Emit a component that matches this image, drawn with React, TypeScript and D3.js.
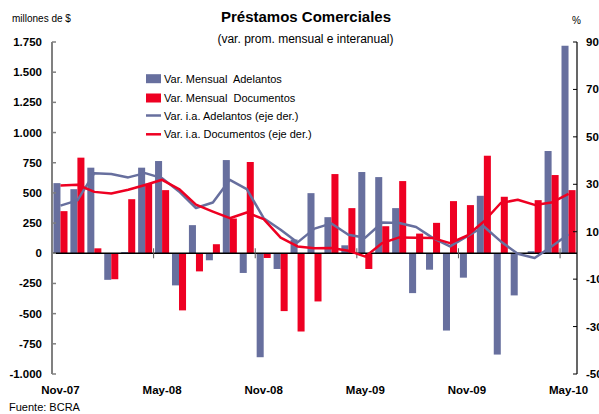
import React from "react";
import { scaleBand, scaleLinear, line } from "d3";

const months = [
  "Nov-07", "Dec-07", "Jan-08", "Feb-08", "Mar-08", "Apr-08", "May-08", "Jun-08",
  "Jul-08", "Aug-08", "Sep-08", "Oct-08", "Nov-08", "Dec-08", "Jan-09", "Feb-09",
  "Mar-09", "Apr-09", "May-09", "Jun-09", "Jul-09", "Aug-09", "Sep-09", "Oct-09",
  "Nov-09", "Dec-09", "Jan-10", "Feb-10", "Mar-10", "Apr-10", "May-10",
];
const monthLabels = ["Nov-07", "May-08", "Nov-08", "May-09", "Nov-09", "May-10"];

// millones de $
const adelantosMensual = [
  581, 531, 709, -220, 10, 709, 764, -266, 233, -58, 772, -163, -861, -130, 114, 498,
  299, 66, 673, 631, 374, -330, -136, -640, -202, 476, -839, -349, 17, 847, 1719,
];
const documentosMensual = [
  349, 792, 41, -215, 448, 576, 523, -473, -150, 75, 288, 756, -39, -479, -648, -399,
  656, 374, -130, 224, 598, 163, 252, 432, 399, 808, 468, 0, 440, 648, 523,
];
// % (eje der.)
const adelantosIA = [
  21.0, 23.2, 34.7, 34.3, 32.9, 34.7, 32.6, 27.0, 20.0, 22.3, 31.9, 28.0, 15.7, 10.8, 5.5, 11.3,
  13.5, 8.7, 7.5, 13.9, 13.7, 12.0, 7.3, 3.8, 8.0, 12.2, 5.9, 0.7, -1.1, 3.8, 8.9,
];
const documentosIA = [
  29.5, 29.8, 26.8, 26.1, 27.7, 29.7, 31.9, 28.0, 21.4, 18.5, 15.7, 18.1, 15.3, 7.5, 3.8, 3.0,
  3.1, 2.0, -0.5, 5.2, 7.6, 7.5, 7.3, 5.2, 8.3, 14.3, 22.1, 23.5, 21.3, 22.3, 26.0,
];

const leftTicks = [-1000, -750, -500, -250, 0, 250, 500, 750, 1000, 1250, 1500, 1750];
const rightTicks = [-50, -30, -10, 10, 30, 50, 70, 90];

const BLUE = "#676f9e";
const RED = "#ee0022";
const FONT = "'Liberation Sans', Arial, sans-serif";

const fmtLeft = (v: number) =>
  (v < 0 ? "-" : "") + Math.abs(v).toLocaleString("en-US").replace(",", ".");

export default function App() {
  const W = 599;
  const H = 414;
  const left = 52;
  const right = 577;
  const top = 42;
  const bottom = 374;

  const x0 = scaleBand<string>().domain(months).range([left, right]).paddingInner(0.17).paddingOuter(0.085);
  const x1 = scaleBand<string>().domain(["a", "d"]).range([0, x0.bandwidth()]);
  const yL = scaleLinear().domain([-1000, 1750]).range([bottom, top]);
  const yR = scaleLinear().domain([-50, 90]).range([bottom, top]);
  const cx = (m: string) => (x0(m) as number) + x0.bandwidth() / 2;

  const mkLine = line<number>()
    .x((_, i) => cx(months[i]))
    .y((d) => yR(d));

  const gap = (x0.step() - x0.bandwidth()) / 2;
  const boundaries = [6, 12, 18, 24, 30].map((k) => (x0(months[k]) as number) - gap);

  const bar = (v: number, m: string, key: string, color: string) => (
    <rect
      key={key + m}
      x={(x0(m) as number) + (x1(key) as number)}
      width={x1.bandwidth()}
      y={yL(Math.max(0, v))}
      height={Math.abs(yL(v) - yL(0))}
      fill={color}
    />
  );

  const legend = [
    { label: "Var. Mensual  Adelantos", color: BLUE, kind: "rect" },
    { label: "Var. Mensual  Documentos", color: RED, kind: "rect" },
    { label: "Var. i.a. Adelantos (eje der.)", color: BLUE, kind: "line" },
    { label: "Var. i.a. Documentos (eje der.)", color: RED, kind: "line" },
  ];
  const legendY = [78.7, 98, 115.5, 134.3];

  return (
    <svg width={W} height={H} style={{ position: "absolute", left: 0, top: 0, background: "#fff" }} fontFamily={FONT}>
      {/* titles */}
      <text x={306} y={22} textAnchor="middle" fontSize={15} fontWeight="bold">
        Préstamos Comerciales
      </text>
      <text x={305.5} y={43} textAnchor="middle" fontSize={12}>
        (var. prom. mensual e interanual)
      </text>
      <text x={12} y={22} fontSize={10}>millones de $</text>
      <text x={572} y={24} fontSize={10}>%</text>

      {/* bars */}
      {months.map((m, i) => bar(adelantosMensual[i], m, "a", BLUE))}
      {months.map((m, i) => bar(documentosMensual[i], m, "d", RED))}

      {/* zero line and category ticks */}
      <line x1={left} x2={right} y1={yL(0)} y2={yL(0)} stroke="#000" strokeWidth={1.5} />
      {boundaries.map((b) => (
        <line key={b} x1={b} x2={b} y1={yL(0) - 5} y2={yL(0) + 5} stroke="#555" strokeWidth={1} />
      ))}

      {/* lines */}
      <path d={mkLine(adelantosIA) || ""} fill="none" stroke={BLUE} strokeWidth={2.5} strokeLinejoin="round" />
      <path d={mkLine(documentosIA) || ""} fill="none" stroke={RED} strokeWidth={2.5} strokeLinejoin="round" />

      {/* left axis */}
      <line x1={left} x2={left} y1={top} y2={bottom} stroke="#808080" strokeWidth={2} />
      {leftTicks.map((t) => (
        <g key={t}>
          <line x1={left} x2={left + 4} y1={yL(t)} y2={yL(t)} stroke="#808080" strokeWidth={1.5} />
          <text x={42} y={yL(t) + 4} textAnchor="end" fontSize={11.5} fontWeight="bold">
            {fmtLeft(t)}
          </text>
        </g>
      ))}

      {/* right axis */}
      <line x1={right} x2={right} y1={top} y2={bottom} stroke="#000" strokeWidth={1.2} />
      {rightTicks.map((t) => (
        <g key={t}>
          <line x1={right - 4} x2={right} y1={yR(t)} y2={yR(t)} stroke="#000" strokeWidth={1} />
          <text x={586} y={yR(t) + 4} fontSize={11.5} fontWeight="bold">
            {t}
          </text>
        </g>
      ))}

      {/* month labels */}
      {monthLabels.map((m) => (
        <text key={m} x={cx(m)} y={394} textAnchor="middle" fontSize={11.5} fontWeight="bold">
          {m}
        </text>
      ))}

      {/* legend */}
      {legend.map((l, i) => (
        <g key={l.label}>
          {l.kind === "rect" ? (
            <rect x={146} y={legendY[i] - 4.5} width={15} height={9} fill={l.color} />
          ) : (
            <line x1={146} x2={161} y1={legendY[i]} y2={legendY[i]} stroke={l.color} strokeWidth={2.5} />
          )}
          <text x={164} y={legendY[i] + 4} fontSize={11} style={{ whiteSpace: "pre" }}>
            {l.label}
          </text>
        </g>
      ))}

      <text x={9} y={411} fontSize={11}>Fuente: BCRA</text>
    </svg>
  );
}
